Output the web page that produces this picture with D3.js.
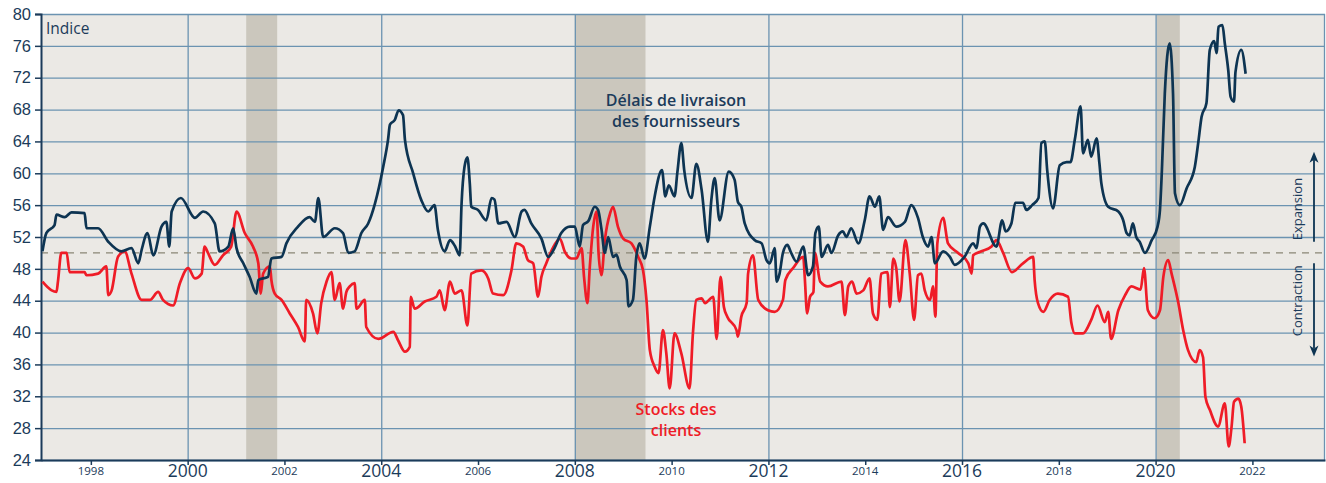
<!DOCTYPE html>
<html>
<head>
<meta charset="utf-8">
<script src="https://cdn.jsdelivr.net/npm/d3@7"></script>
<style>
    body { margin: 0; background: #fff; }
    svg { display: block; font-family: "Open Sans", Lato, sans-serif; }
</style>
</head>
<body>
<div id="chart"></div>
<script>
// ISM - délais de livraison des fournisseurs, [année décimale, indice]
var deliveries = [
    [1997.0, 50.2], [1997.08, 52.5], [1997.25, 53.5], [1997.29, 54.8], [1997.46, 54.5], [1997.6, 55.1],
    [1997.87, 55.0], [1997.91, 53.1], [1998.15, 53.1], [1998.36, 51.4], [1998.63, 50.2], [1998.84, 50.6],
    [1998.98, 48.7], [1999.05, 50.4], [1999.17, 52.5], [1999.29, 49.7], [1999.46, 53.3], [1999.56, 53.9],
    [1999.62, 50.8], [1999.67, 55.2], [1999.86, 56.9], [2000.15, 54.4], [2000.32, 55.2], [2000.56, 53.7],
    [2000.66, 50.2], [2000.84, 50.8], [2000.94, 53.1], [2001.01, 50.6], [2001.15, 48.7], [2001.28, 47.0],
    [2001.42, 44.9], [2001.46, 46.6], [2001.66, 47.0], [2001.73, 49.3], [2001.94, 49.5], [2002.04, 51.2],
    [2002.28, 53.3], [2002.52, 54.5], [2002.63, 53.9], [2002.70, 56.9], [2002.8, 52.0], [2003.04, 53.1],
    [2003.21, 52.5], [2003.32, 50.0], [2003.45, 50.2], [2003.59, 52.5], [2003.73, 53.7], [2003.87, 56.2],
    [2004.04, 60.8], [2004.14, 64.2], [2004.18, 66.1], [2004.28, 66.7], [2004.36, 67.9], [2004.45, 67.3],
    [2004.49, 64.2], [2004.66, 60.0], [2004.83, 56.6], [2004.97, 55.2], [2005.1, 56.0], [2005.17, 52.9],
    [2005.31, 50.2], [2005.42, 51.6], [2005.52, 50.9], [2005.62, 49.7], [2005.66, 56.2], [2005.72, 60.8],
    [2005.78, 62.0], [2005.83, 58.7], [2005.86, 55.8], [2006.0, 55.4], [2006.17, 54.1], [2006.28, 56.9],
    [2006.34, 56.7], [2006.42, 53.7], [2006.59, 53.9], [2006.76, 52.0], [2006.9, 55.2], [2006.96, 55.4],
    [2007.1, 53.7], [2007.31, 51.8], [2007.45, 49.5], [2007.58, 50.6], [2007.72, 52.5], [2007.9, 53.3],
    [2008.0, 53.3], [2008.1, 50.8], [2008.17, 53.5], [2008.28, 54.0], [2008.41, 55.8], [2008.48, 55.4],
    [2008.55, 53.0], [2008.62, 50.0], [2008.69, 52.0], [2008.79, 49.5], [2008.86, 49.8], [2008.93, 48.3],
    [2009.07, 46.6], [2009.11, 43.3], [2009.2, 44.1], [2009.27, 49.5], [2009.34, 51.2], [2009.44, 49.3],
    [2009.55, 53.3], [2009.65, 57.1], [2009.80, 60.4], [2009.87, 57.1], [2009.94, 58.5], [2010.06, 57.1],
    [2010.12, 60.2], [2010.2, 63.8], [2010.26, 60.4], [2010.41, 56.9], [2010.51, 61.2], [2010.62, 57.9],
    [2010.75, 51.4], [2010.82, 56.6], [2010.89, 59.4], [2010.99, 54.1], [2011.18, 60.2], [2011.30, 59.2],
    [2011.37, 56.4], [2011.44, 55.8], [2011.51, 53.7], [2011.72, 51.6], [2011.86, 51.2], [2011.96, 49.1],
    [2012.03, 48.7], [2012.13, 50.6], [2012.17, 46.4], [2012.23, 47.4], [2012.30, 50.0], [2012.39, 51.0],
    [2012.47, 50.0], [2012.58, 48.9], [2012.72, 50.8], [2012.82, 47.2], [2012.92, 48.3], [2012.97, 52.5],
    [2013.04, 53.3], [2013.1, 49.5], [2013.23, 51.0], [2013.30, 50.0], [2013.44, 52.2], [2013.54, 52.7],
    [2013.61, 52.0], [2013.71, 53.1], [2013.86, 51.2], [2013.99, 54.1], [2014.09, 57.1], [2014.20, 55.8],
    [2014.29, 57.1], [2014.37, 52.9], [2014.47, 54.5], [2014.64, 53.3], [2014.82, 53.9], [2014.95, 56.0],
    [2015.09, 54.4], [2015.19, 52.0], [2015.30, 50.8], [2015.37, 52.0], [2015.44, 48.7], [2015.61, 50.2],
    [2015.75, 49.5], [2015.85, 48.5], [2016.05, 49.5], [2016.23, 51.2], [2016.30, 50.6], [2016.37, 53.3],
    [2016.44, 53.7], [2016.71, 50.8], [2016.83, 54.1], [2016.90, 52.7], [2017.02, 53.7], [2017.10, 56.3],
    [2017.26, 56.3], [2017.33, 55.4], [2017.45, 56.0], [2017.58, 56.9], [2017.64, 63.8], [2017.71, 64.0],
    [2017.76, 60.4], [2017.88, 55.6], [2018.02, 61.0], [2018.16, 61.4], [2018.24, 61.4], [2018.33, 64.2],
    [2018.45, 68.4], [2018.50, 62.5], [2018.60, 64.2], [2018.67, 62.1], [2018.78, 64.4], [2018.84, 61.2],
    [2018.88, 58.7], [2019.02, 55.8], [2019.23, 55.2], [2019.33, 54.1], [2019.40, 52.5], [2019.46, 52.2],
    [2019.53, 53.7], [2019.60, 52.0], [2019.67, 51.4], [2019.78, 50.0], [2019.92, 51.6], [2020.04, 53.3],
    [2020.09, 55.4], [2020.13, 60.4], [2020.19, 70.0], [2020.29, 76.3], [2020.36, 70.0], [2020.40, 57.5],
    [2020.50, 56.0], [2020.64, 58.1], [2020.81, 60.8], [2020.88, 63.8], [2020.95, 67.1], [2021.05, 68.8],
    [2021.12, 75.5], [2021.21, 76.6], [2021.26, 75.1], [2021.30, 78.4], [2021.38, 78.6], [2021.43, 76.3],
    [2021.50, 73.0], [2021.55, 69.6], [2021.62, 69.0], [2021.65, 72.7], [2021.77, 75.5], [2021.86, 72.5]
]

// ISM - stocks des clients
var inventories = [
    [1997.0, 46.4], [1997.19, 45.3], [1997.29, 45.1], [1997.32, 46.4], [1997.39, 50.0], [1997.5, 50.0],
    [1997.56, 47.6], [1997.87, 47.6], [1997.91, 47.2], [1998.15, 47.4], [1998.32, 48.3], [1998.36, 44.7],
    [1998.43, 45.3], [1998.56, 49.5], [1998.70, 50.2], [1998.84, 47.4], [1999.05, 44.1], [1999.22, 44.1],
    [1999.39, 45.1], [1999.49, 44.1], [1999.70, 43.4], [1999.84, 46.2], [2000.01, 48.1], [2000.15, 46.8],
    [2000.29, 47.4], [2000.35, 50.8], [2000.42, 50.0], [2000.56, 48.5], [2000.73, 49.7], [2000.90, 50.8],
    [2001.01, 55.2], [2001.18, 52.5], [2001.35, 50.8], [2001.46, 48.7], [2001.51, 44.9], [2001.56, 47.4],
    [2001.70, 48.3], [2001.73, 46.6], [2001.80, 44.9], [2001.94, 44.1], [2002.11, 42.4], [2002.28, 40.7],
    [2002.42, 38.9], [2002.45, 44.1], [2002.59, 42.4], [2002.68, 39.9], [2002.76, 43.7], [2002.87, 46.4],
    [2002.97, 47.6], [2003.04, 44.1], [2003.14, 46.2], [2003.21, 43.0], [2003.28, 45.1], [2003.35, 45.8],
    [2003.45, 46.2], [2003.49, 43.0], [2003.66, 44.1], [2003.69, 40.7], [2003.94, 39.2], [2004.25, 40.1],
    [2004.35, 39.0], [2004.49, 37.6], [2004.59, 38.2], [2004.61, 44.5], [2004.69, 43.0], [2004.90, 43.9],
    [2005.14, 44.5], [2005.21, 45.3], [2005.31, 42.8], [2005.42, 46.4], [2005.52, 44.9], [2005.66, 45.3],
    [2005.78, 40.9], [2005.86, 47.4], [2006.07, 47.8], [2006.21, 46.8], [2006.31, 44.9], [2006.52, 44.7],
    [2006.69, 47.8], [2006.79, 51.2], [2006.93, 50.8], [2007.03, 49.1], [2007.14, 48.7], [2007.24, 44.5],
    [2007.31, 47.0], [2007.41, 48.7], [2007.58, 51.0], [2007.69, 51.8], [2007.79, 50.2], [2007.93, 49.3],
    [2008.03, 49.3], [2008.14, 50.6], [2008.19, 47.0], [2008.26, 43.7], [2008.31, 48.3], [2008.38, 53.3],
    [2008.45, 55.2], [2008.49, 50.0], [2008.55, 47.2], [2008.62, 51.6], [2008.73, 55.0], [2008.79, 55.8],
    [2008.89, 53.3], [2009.0, 51.8], [2009.17, 51.2], [2009.31, 49.5], [2009.41, 47.8], [2009.48, 44.1],
    [2009.55, 37.8], [2009.65, 35.7], [2009.73, 34.9], [2009.82, 40.3], [2009.89, 37.4], [2009.96, 33.0],
    [2010.06, 39.9], [2010.20, 37.4], [2010.37, 33.0], [2010.44, 39.9], [2010.51, 44.1], [2010.62, 44.3],
    [2010.69, 43.7], [2010.86, 44.5], [2010.93, 39.2], [2011.01, 47.0], [2011.08, 43.2], [2011.15, 42.0],
    [2011.34, 40.3], [2011.37, 39.5], [2011.44, 42.0], [2011.55, 43.7], [2011.58, 47.4], [2011.68, 49.7],
    [2011.79, 44.1], [2011.99, 42.8], [2012.13, 42.6], [2012.30, 44.1], [2012.35, 46.6], [2012.51, 48.1],
    [2012.72, 49.5], [2012.75, 47.0], [2012.80, 42.4], [2012.86, 44.5], [2012.93, 45.1], [2012.96, 50.0],
    [2013.07, 46.4], [2013.23, 45.8], [2013.51, 46.4], [2013.58, 42.2], [2013.65, 45.8], [2013.73, 46.4],
    [2013.82, 44.9], [2013.96, 45.3], [2014.09, 46.8], [2014.16, 42.4], [2014.25, 41.6], [2014.33, 47.4],
    [2014.46, 47.6], [2014.51, 43.2], [2014.58, 49.3], [2014.64, 48.1], [2014.71, 43.9], [2014.83, 51.6],
    [2014.92, 47.4], [2015.01, 41.6], [2015.09, 47.2], [2015.16, 47.4], [2015.23, 45.3], [2015.34, 44.1],
    [2015.40, 45.8], [2015.45, 42.0], [2015.49, 51.2], [2015.61, 54.4], [2015.71, 51.2], [2015.92, 50.0],
    [2016.13, 48.7], [2016.20, 47.4], [2016.23, 49.7], [2016.40, 50.2], [2016.61, 50.8], [2016.71, 51.6],
    [2016.85, 50.0], [2017.03, 47.6], [2017.26, 48.7], [2017.47, 49.5], [2017.50, 46.6], [2017.57, 43.7],
    [2017.68, 42.6], [2017.81, 44.1], [2017.98, 44.9], [2018.19, 44.5], [2018.26, 41.2], [2018.33, 39.9],
    [2018.50, 39.9], [2018.67, 41.6], [2018.80, 43.4], [2018.95, 41.3], [2019.02, 42.6], [2019.08, 39.2],
    [2019.23, 42.8], [2019.37, 44.7], [2019.50, 45.8], [2019.69, 45.4], [2019.76, 48.1], [2019.84, 42.8],
    [2019.98, 41.8], [2020.09, 42.8], [2020.16, 47.0], [2020.26, 49.1], [2020.33, 47.4], [2020.47, 43.7],
    [2020.57, 40.3], [2020.67, 37.8], [2020.84, 36.3], [2020.91, 37.8], [2020.98, 36.9], [2021.03, 31.9],
    [2021.12, 30.3], [2021.29, 28.2], [2021.43, 31.1], [2021.51, 25.7], [2021.57, 28.2], [2021.62, 31.3],
    [2021.71, 31.7], [2021.77, 30.7], [2021.84, 26.1]
]

// récessions (début, fin)
var recessions = [[2001.21, 2001.85], [2008.0, 2009.46], [2020.02, 2020.5]]

var yTicks = [24, 28, 32, 36, 40, 44, 48, 52, 56, 60, 64, 68, 72, 76, 80]
var majorYears = [2000, 2004, 2008, 2012, 2016, 2020]
var minorYears = [1998, 2002, 2006, 2010, 2014, 2018, 2022]

var W = 1326, H = 483
var margin = { top: 14, right: 1, bottom: 23, left: 41 }

var navy = '#0d3452', red = '#ef1c27', grid = '#6b93b1', ink = '#1b3b5a'

var svg = d3.select('#chart')
    .append('svg')
    .attr('width', W)
    .attr('height', H)

var x = d3.scaleLinear()
    .domain([1996.97, 2023.5])
    .range([margin.left, W - margin.right])

var y = d3.scaleLinear()
    .domain([24, 80])
    .range([H - margin.bottom, margin.top])

// fond
svg.append('rect')
    .attr('x', x(x.domain()[0]))
    .attr('y', y(80))
    .attr('width', x(x.domain()[1]) - x(x.domain()[0]))
    .attr('height', y(24) - y(80))
    .attr('fill', '#ebe9e5')

svg.selectAll('.recession')
    .data(recessions)
    .enter().append('rect')
    .attr('class', 'recession')
    .attr('x', d => x(d[0]))
    .attr('y', y(80))
    .attr('width', d => x(d[1]) - x(d[0]))
    .attr('height', y(24) - y(80))
    .attr('fill', '#cbc7bd')

// grilles
svg.append('g')
    .attr('transform', 'translate(' + margin.left + ',0)')
    .call(d3.axisLeft(y).tickValues(yTicks).tickSize(-(W - margin.left - margin.right)).tickFormat(''))
    .call(g => g.select('.domain').remove())
    .selectAll('line')
    .attr('stroke', grid)
    .attr('stroke-width', 1.3)

svg.append('g')
    .attr('transform', 'translate(0,' + margin.top + ')')
    .call(d3.axisBottom(x).tickValues(majorYears).tickSize(H - margin.top - margin.bottom).tickFormat(''))
    .call(g => g.select('.domain').remove())
    .selectAll('line')
    .attr('stroke', grid)
    .attr('stroke-width', 1.3)

svg.append('line')
    .attr('x1', W - margin.right - 0.5).attr('x2', W - margin.right - 0.5)
    .attr('y1', y(80)).attr('y2', y(24))
    .attr('stroke', grid)
    .attr('stroke-width', 1.3)

svg.append('line')
    .attr('x1', x(x.domain()[0])).attr('x2', x(x.domain()[1]))
    .attr('y1', y(50)).attr('y2', y(50))
    .attr('stroke', '#8a8676')
    .attr('stroke-width', 1.2)
    .attr('stroke-dasharray', '7,6')

// axes
var yAxis = svg.append('g')
    .attr('transform', 'translate(' + margin.left + ',0)')
    .call(d3.axisLeft(y).tickValues(yTicks).tickSize(6).tickPadding(4))
yAxis.select('.domain').attr('stroke', ink).attr('stroke-width', 2)
yAxis.selectAll('line').attr('stroke', ink).attr('stroke-width', 1.5)
yAxis.selectAll('text')
    .attr('fill', ink)
    .attr('font-size', 16.5)

var xAxis = svg.append('g')
    .attr('transform', 'translate(0,' + y(24) + ')')
    .call(d3.axisBottom(x).tickValues(d3.range(1998, 2024, 2)).tickSize(5).tickSizeOuter(0).tickFormat(''))
xAxis.select('.domain').attr('stroke', ink).attr('stroke-width', 2)
xAxis.selectAll('line').attr('stroke', ink).attr('stroke-width', 1.5)

svg.selectAll('.major-label')
    .data(majorYears)
    .enter().append('text')
    .attr('class', 'major-label')
    .attr('x', d => x(d))
    .attr('y', 477)
    .attr('text-anchor', 'middle')
    .attr('fill', ink)
    .attr('font-size', 17.5)
    .text(d => d)

svg.selectAll('.minor-label')
    .data(minorYears)
    .enter().append('text')
    .attr('class', 'minor-label')
    .attr('x', d => x(d))
    .attr('y', 475)
    .attr('text-anchor', 'middle')
    .attr('fill', ink)
    .attr('font-size', 11.5)
    .text(d => d)

// courbes
var line = d3.line()
    .x(d => x(d[0]))
    .y(d => y(d[1]))
    .curve(d3.curveMonotoneX)

svg.append('path')
    .datum(inventories)
    .attr('d', line)
    .attr('fill', 'none')
    .attr('stroke', red)
    .attr('stroke-width', 2.7)
    .attr('stroke-linejoin', 'round')

svg.append('path')
    .datum(deliveries)
    .attr('d', line)
    .attr('fill', 'none')
    .attr('stroke', navy)
    .attr('stroke-width', 2.7)
    .attr('stroke-linejoin', 'round')

// textes
svg.append('text')
    .attr('x', 46).attr('y', 34)
    .attr('fill', ink)
    .attr('font-size', 15.5)
    .attr('font-weight', 500)
    .text('Indice')

var navyLabel = svg.append('text')
    .attr('text-anchor', 'middle')
    .attr('fill', ink)
    .attr('font-size', 16)
    .attr('font-weight', 600)
navyLabel.append('tspan').attr('x', 676).attr('y', 106).text('Délais de livraison')
navyLabel.append('tspan').attr('x', 676).attr('y', 127).text('des fournisseurs')

var redLabel = svg.append('text')
    .attr('text-anchor', 'middle')
    .attr('fill', red)
    .attr('font-size', 16)
    .attr('font-weight', 600)
redLabel.append('tspan').attr('x', 676).attr('y', 415).text('Stocks des')
redLabel.append('tspan').attr('x', 676).attr('y', 436).text('clients')

// expansion / contraction
var arrowX = 1314
var upTop = y(62.7), upBottom = y(51.4)
var downTop = y(48.7), downBottom = y(37.0)

svg.append('line')
    .attr('x1', arrowX).attr('x2', arrowX)
    .attr('y1', upBottom).attr('y2', upTop + 8)
    .attr('stroke', navy).attr('stroke-width', 1.8)
svg.append('path')
    .attr('d', 'M' + arrowX + ',' + upTop + 'l-4.5,11 l4.5,-3 l4.5,3 z')
    .attr('fill', navy)

svg.append('line')
    .attr('x1', arrowX).attr('x2', arrowX)
    .attr('y1', downTop).attr('y2', downBottom - 8)
    .attr('stroke', navy).attr('stroke-width', 1.8)
svg.append('path')
    .attr('d', 'M' + arrowX + ',' + downBottom + 'l-4.5,-11 l4.5,3 l4.5,-3 z')
    .attr('fill', navy)

svg.append('text')
    .attr('transform', 'translate(1302,' + y(55.5) + ') rotate(-90)')
    .attr('text-anchor', 'middle')
    .attr('fill', ink)
    .attr('font-size', 13)
    .text('Expansion')

svg.append('text')
    .attr('transform', 'translate(1302,' + y(44.0) + ') rotate(-90)')
    .attr('text-anchor', 'middle')
    .attr('fill', ink)
    .attr('font-size', 13)
    .text('Contraction')
</script>
</body>
</html>
